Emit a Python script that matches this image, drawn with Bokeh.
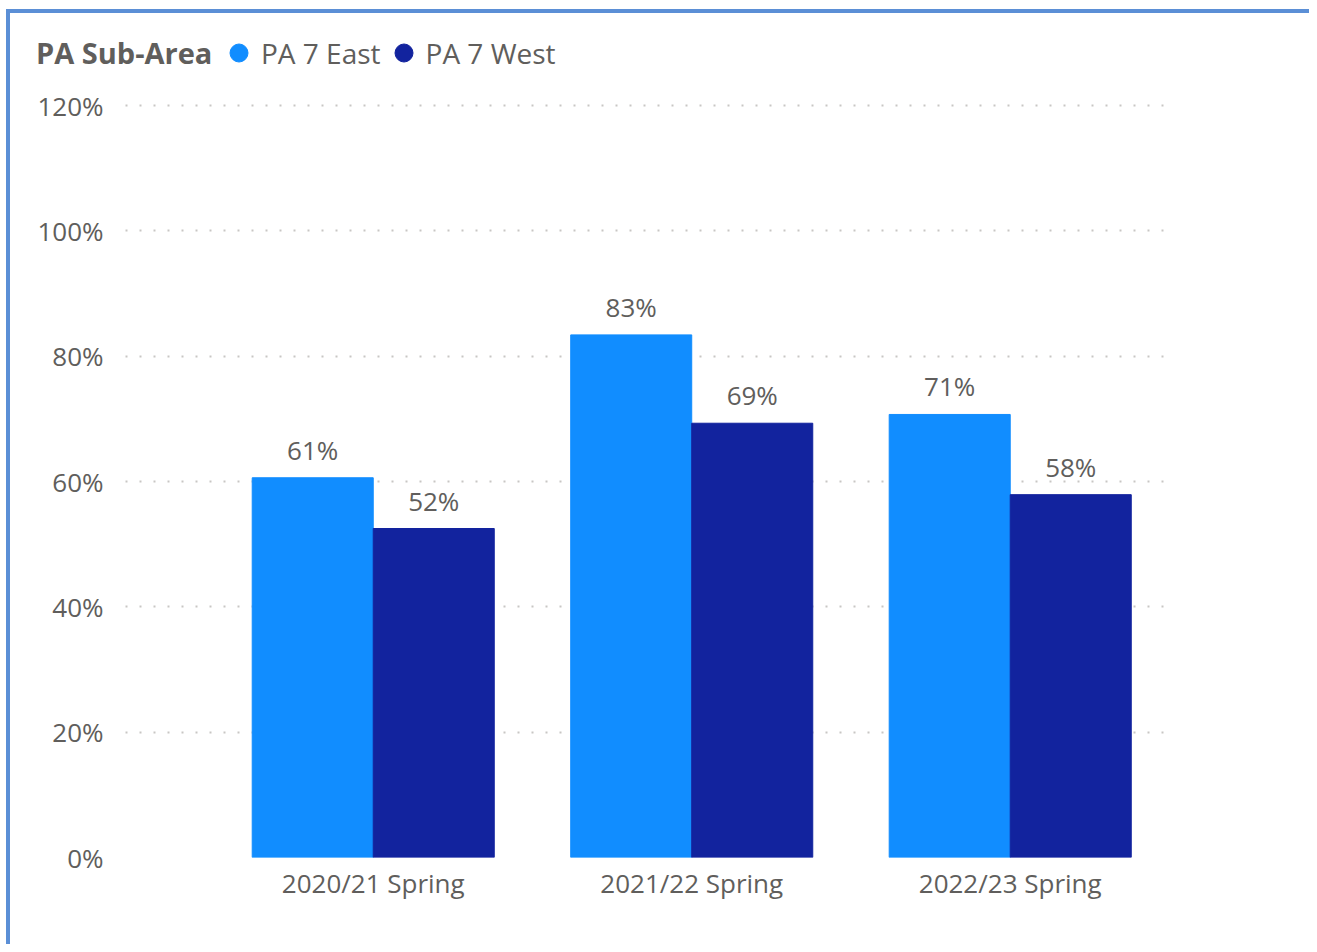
from bokeh.plotting import figure
from bokeh.models import (ColumnDataSource, Range1d, FixedTicker, NumeralTickFormatter,
                          LabelSet, Legend, LegendItem)
from bokeh.transform import dodge
from bokeh.core.properties import value
from bokeh.embed import file_html
from bokeh.resources import INLINE

categories = ["2020/21 Spring", "2021/22 Spring", "2022/23 Spring"]
pa7_east = [0.606, 0.834, 0.707]
pa7_west = [0.525, 0.693, 0.579]
series_names = ["PA 7 East", "PA 7 West"]
legend_title = "PA Sub-Area"
y_ticks = [0, 0.2, 0.4, 0.6, 0.8, 1.0, 1.2]

EAST_COLOR = "#118DFF"
WEST_COLOR = "#12239E"
TEXT = "#605E5C"
FRAME = "#5B8FD6"
GRID = "#C8C6C4"
FONT = "Open Sans"
NAN = float("nan")

# layout: frame spans the card so the legend row sits inside it
X_START, X_END, GRID_LEFT = -1.0761, 2.5032, -0.778
Y_END = 1.3277

idx = list(range(len(categories)))
src = ColumnDataSource(dict(
    idx=idx, east=pa7_east, west=pa7_west,
    east_lbl=[f"{round(v * 100)}%" for v in pa7_east],
    west_lbl=[f"{round(v * 100)}%" for v in pa7_west],
))

p = figure(width=1309, height=944,
           x_range=Range1d(X_START, X_END), y_range=Range1d(0, Y_END),
           output_backend="svg", toolbar_location=None,
           min_border_left=30, min_border_top=25, min_border_right=139, min_border_bottom=87)
p.outline_line_color = None
p.background_fill_color = None
p.border_fill_color = None
p.styles = {
    "background": (f"linear-gradient({FRAME}, {FRAME}) 6px 9px / 100% 4px no-repeat, "
                   f"linear-gradient({FRAME}, {FRAME}) 6px 9px / 4px 100% no-repeat, white"),
}

# grid
p.xgrid.visible = False
if "cross_bounds" in p.ygrid[0].properties():
    g = p.ygrid[0]
    g.ticker = FixedTicker(ticks=y_ticks)
    g.cross_bounds = (GRID_LEFT, X_END)
    g.grid_line_color = GRID
    g.grid_line_dash = "2 12"
    g.grid_line_width = 2
else:
    p.ygrid.visible = False
    p.segment(x0=[GRID_LEFT] * len(y_ticks), x1=[X_END] * len(y_ticks), y0=y_ticks, y1=y_ticks,
              line_color=GRID, line_dash="2 12", line_width=2, level="underlay")

bw = 0.38
p.vbar(x=dodge("idx", -bw / 2, range=p.x_range), top="east", width=bw, source=src,
       fill_color=EAST_COLOR, line_color=EAST_COLOR)
p.vbar(x=dodge("idx", bw / 2, range=p.x_range), top="west", width=bw, source=src,
       fill_color=WEST_COLOR, line_color=WEST_COLOR)

for col, lbl, off in (("east", "east_lbl", -bw / 2), ("west", "west_lbl", bw / 2)):
    p.add_layout(LabelSet(x=dodge("idx", off, range=p.x_range), y=col, text=lbl, source=src,
                          text_align="center", text_baseline="alphabetic", y_offset=18,
                          text_font=value(FONT), text_font_size="26px", text_color=TEXT))

# legend glyph carriers (nothing drawn in the plot: NaN position)
d_e = p.scatter(x=[NAN], y=[NAN], marker="circle", size=10,
                fill_color=EAST_COLOR, line_color=EAST_COLOR)
d_w = p.scatter(x=[NAN], y=[NAN], marker="circle", size=10,
                fill_color=WEST_COLOR, line_color=WEST_COLOR)
ghost = p.scatter(x=[NAN], y=[NAN], marker="circle", size=1, alpha=0)

common = dict(orientation="horizontal", glyph_height=45, padding=0, margin=0,
              border_line_alpha=0, background_fill_alpha=0,
              label_text_font=FONT, label_text_color=TEXT)

title_legend = Legend(items=[LegendItem(label=legend_title, renderers=[ghost])],
                      location=(6, 782), glyph_width=0, label_standoff=0,
                      label_text_font_size="29px", label_text_font_style="bold", **common)
p.add_layout(title_legend)

legend = Legend(items=[LegendItem(label=series_names[0], renderers=[d_e]),
                       LegendItem(label=series_names[1], renderers=[d_w])],
                location=(186, 782), glyph_width=45, label_standoff=0, spacing=0,
                label_text_font_size="28px", **common)
p.add_layout(legend)

# axes
p.yaxis.ticker = FixedTicker(ticks=y_ticks)
p.yaxis.formatter = NumeralTickFormatter(format="0%")
p.xaxis.ticker = FixedTicker(ticks=idx)
p.xaxis.major_label_overrides = {i: c for i, c in zip(idx, categories)}
for ax in (p.xaxis, p.yaxis):
    ax.axis_line_color = None
    ax.major_tick_line_color = None
    ax.minor_tick_line_color = None
    ax.major_tick_out = 0
    ax.major_tick_in = 0
    ax.major_label_text_font = FONT
    ax.major_label_text_font_size = "26px"
    ax.major_label_text_color = TEXT
p.yaxis.major_label_standoff = -73
p.xaxis.major_label_standoff = 7

open("out.html", "w").write(file_html(p, INLINE))
